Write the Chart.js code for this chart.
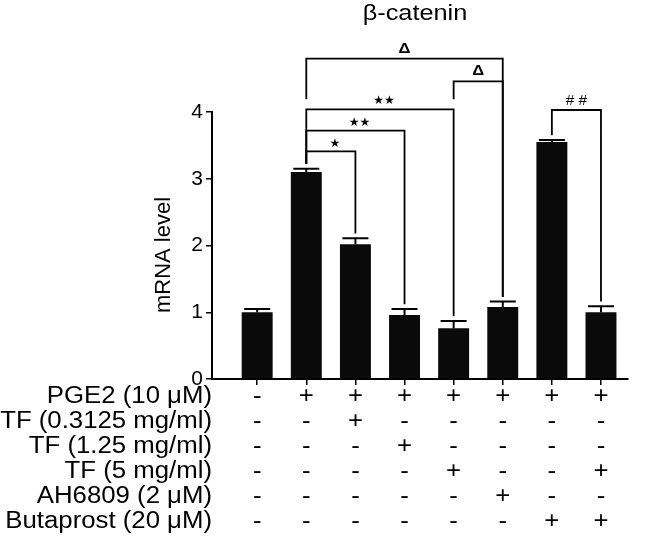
<!DOCTYPE html>
<html>
<head>
<meta charset="utf-8">
<script src="https://cdn.jsdelivr.net/npm/chart.js@4.4.1/dist/chart.umd.min.js"></script>
<style>
  body { margin: 0; background: #fff; }
  #wrap { width: 650px; height: 540px; }
</style>
</head>
<body>
<div id="wrap"><canvas id="chart" width="650" height="540"></canvas></div>
<script>
// Data
const groups = [1, 2, 3, 4, 5, 6, 7, 8];
const mrnaLevel = [1.00, 3.10, 2.02, 0.96, 0.76, 1.08, 3.55, 1.00];
const sem = [0.05, 0.05, 0.09, 0.09, 0.11, 0.08, 0.03, 0.09];
const yTicks = [0, 1, 2, 3, 4];

const conditions = ['PGE2 (10 μM)', 'TF (0.3125 mg/ml)', 'TF (1.25 mg/ml)', 'TF (5 mg/ml)', 'AH6809 (2 μM)', 'Butaprost (20 μM)'];
const pge2 = ['-', '+', '+', '+', '+', '+', '+', '+'];
const tfLow = ['-', '-', '+', '-', '-', '-', '-', '-'];
const tfMid = ['-', '-', '-', '+', '-', '-', '-', '-'];
const tfHigh = ['-', '-', '-', '-', '+', '-', '-', '+'];
const ah6809 = ['-', '-', '-', '-', '-', '+', '-', '-'];
const butaprost = ['-', '-', '-', '-', '-', '-', '+', '+'];
const treatmentRows = [pge2, tfLow, tfMid, tfHigh, ah6809, butaprost];

// significance brackets: group from -> group to, height in mRNA units
const brackets = [
  { from: 2, to: 6, level: 4.80, fromEnd: 4.19, mark: 'Δ' },
  { from: 5, to: 6, level: 4.46, fromEnd: 4.19, mark: 'Δ' },
  { from: 2, to: 5, level: 4.04, mark: '★★' },
  { from: 2, to: 4, level: 3.72, mark: '★★' },
  { from: 2, to: 3, level: 3.41, mark: '★' },
  { from: 7, to: 8, level: 4.03, mark: '# #' }
];

const FONT = '"Liberation Sans", Arial, sans-serif';

function wideText(ctx, text, x, y, align, size, sx, weight) {
    ctx.save();
    ctx.translate(x, y);
    ctx.scale(sx, 1);
    ctx.font = (weight || '') + ' ' + size + 'px ' + FONT;
    ctx.textAlign = align;
    ctx.textBaseline = 'middle';
    ctx.fillStyle = '#000';
    ctx.fillText(text, 0, 0);
    ctx.restore();
}

const extras = {
    id: 'extras',
    afterDatasetsDraw(chart) {
        const ctx = chart.ctx;
        const xs = chart.scales.x;
        const ys = chart.scales.y;
        const area = chart.chartArea;

        ctx.save();
        ctx.strokeStyle = '#000';

        // error bars (upper only)
        ctx.lineWidth = 2;
        groups.forEach((g, i) => {
            const x = xs.getPixelForValue(g);
            const yb = ys.getPixelForValue(mrnaLevel[i]);
            const yt = ys.getPixelForValue(mrnaLevel[i] + sem[i]);
            ctx.beginPath();
            ctx.moveTo(x, yb);
            ctx.lineTo(x, yt);
            ctx.moveTo(x - 13, yt);
            ctx.lineTo(x + 13, yt);
            ctx.stroke();
        });

        // brackets
        ctx.lineWidth = 1.8;
        const legEnd = (g) => mrnaLevel[g - 1] + sem[g - 1] + 0.07;
        brackets.forEach(b => {
            const x1 = xs.getPixelForValue(b.from);
            const x2 = xs.getPixelForValue(b.to);
            const yl = ys.getPixelForValue(b.level);
            const y1 = ys.getPixelForValue(b.fromEnd !== undefined ? b.fromEnd : legEnd(b.from));
            const y2 = ys.getPixelForValue(legEnd(b.to));
            ctx.beginPath();
            ctx.moveTo(x1, y1);
            ctx.lineTo(x1, yl);
            ctx.lineTo(x2, yl);
            ctx.lineTo(x2, y2);
            ctx.stroke();
            const cx = (x1 + x2) / 2;
            if (b.mark === 'Δ') {
                wideText(ctx, b.mark, cx, yl - 10, 'center', 15, 1.1, 'bold');
            } else if (b.mark.indexOf('#') >= 0) {
                wideText(ctx, b.mark, cx, yl - 9, 'center', 14, 1.1);
            } else {
                ctx.save();
                ctx.font = '12px "DejaVu Sans", sans-serif';
                ctx.textAlign = 'center';
                ctx.textBaseline = 'middle';
                ctx.fillStyle = '#000';
                ctx.fillText(b.mark, cx + 4, yl - 8);
                ctx.restore();
            }
        });

        // title
        wideText(ctx, 'β-catenin', (area.left + area.right) / 2 - 5, 14, 'center', 22, 1.15);

        // y axis title
        ctx.save();
        ctx.translate(164, 255);
        ctx.rotate(-Math.PI / 2);
        ctx.font = '22px ' + FONT;
        ctx.textAlign = 'center';
        ctx.textBaseline = 'middle';
        ctx.fillStyle = '#000';
        ctx.fillText('mRNA level', 0, 0);
        ctx.restore();

        // treatment table
        treatmentRows.forEach((row, r) => {
            const y = area.bottom + 18 + r * 25;
            wideText(ctx, conditions[r], 212, y, 'right', 23, 1.12);
            row.forEach((s, i) => {
                wideText(ctx, s, xs.getPixelForValue(groups[i]), y, 'center', 23, 1.12);
            });
        });

        ctx.restore();
    }
};

new Chart(document.getElementById('chart'), {
    type: 'bar',
    data: {
        datasets: [{
            data: groups.map((g, i) => ({ x: g, y: mrnaLevel[i] })),
            backgroundColor: '#0a0a0a',
            borderWidth: 0,
            barPercentage: 0.63,
            categoryPercentage: 1.0
        }]
    },
    options: {
        responsive: false,
        animation: false,
        layout: { padding: { top: 112, right: 22, left: 0, bottom: 0 } },
        plugins: {
            legend: { display: false },
            tooltip: { enabled: false },
            title: { display: false }
        },
        scales: {
            x: {
                type: 'linear',
                offset: false,
                min: 0.08,
                max: 8.55,
                afterBuildTicks: (scale) => { scale.ticks = groups.map(v => ({ value: v })); },
                afterFit: (scale) => { scale.height = 161; },
                ticks: { display: false },
                grid: { display: true, offset: false, drawOnChartArea: false, drawTicks: true, tickLength: 6, color: '#000', lineWidth: 1.5 },
                border: { display: true, color: '#000', width: 2 }
            },
            y: {
                min: 0,
                max: 4,
                afterBuildTicks: (scale) => { scale.ticks = yTicks.map(v => ({ value: v })); },
                afterFit: (scale) => { scale.width = 212; },
                ticks: { color: '#000', font: { size: 21, family: FONT }, padding: 3 },
                grid: { display: true, drawOnChartArea: false, drawTicks: true, tickLength: 6, color: '#000', lineWidth: 1.5 },
                border: { display: true, color: '#000', width: 2 }
            }
        }
    },
    plugins: [extras]
});
</script>
</body>
</html>
